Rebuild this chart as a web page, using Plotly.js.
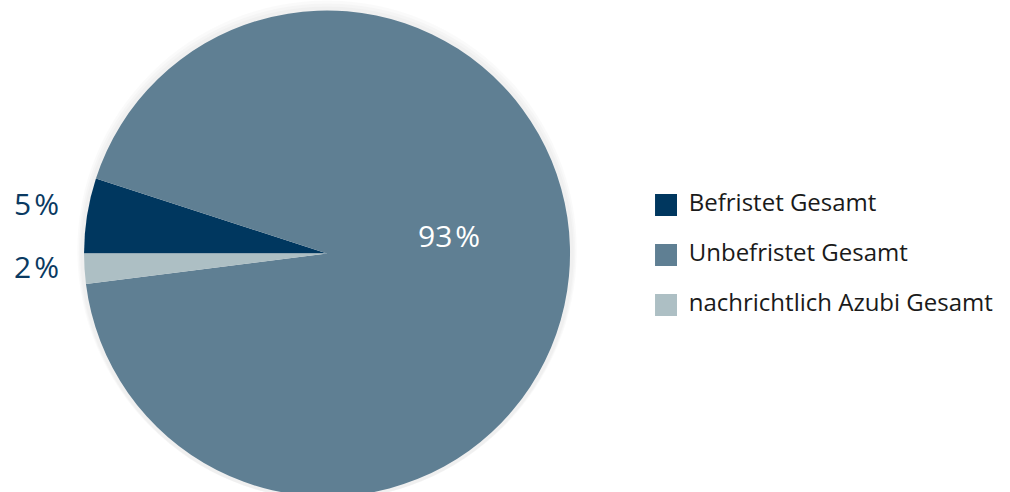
<!DOCTYPE html>
<html>
<head>
<meta charset="utf-8">
<script src="https://cdn.plot.ly/plotly-3.0.1.min.js"></script>
<style>
html,body{margin:0;padding:0;background:#fff;overflow:hidden;}
#chart{width:1010px;height:500px;}
</style>
</head>
<body>
<div id="chart"></div>
<script>
const categories = ["Befristet Gesamt", "Unbefristet Gesamt", "nachrichtlich Azubi Gesamt"];
const values = [5, 93, 2];
const colors = ["#00375f", "#5f7f93", "#adbfc4"];
const labelFont = "Open Sans, Lato, sans-serif";

const pieDomain = {x: [0.0832, 0.5644], y: [0.007, 0.979]};

// subtle drop shadow layers behind the pie
const shadowLayers = [10, 7, 4].map(function (pad) {
  const dx = pad / 1010, dy = pad / 500;
  return {
    type: "pie", values: [1], labels: ["shadow" + pad], showlegend: false,
    marker: {colors: ["rgba(0,0,0,0.018)"], line: {width: 0}},
    textinfo: "none", hoverinfo: "skip", sort: false,
    domain: {x: [pieDomain.x[0] - dx, pieDomain.x[1] + dx], y: [pieDomain.y[0] - dy, pieDomain.y[1] + dy]}
  };
});

const pie = {
  type: "pie",
  labels: categories,
  values: values,
  marker: {colors: colors, line: {width: 0}},
  sort: false,
  direction: "clockwise",
  rotation: -90,
  textinfo: "none",
  hoverinfo: "label+percent",
  showlegend: false,
  domain: pieDomain
};

const legendTrace = {
  type: "scatter",
  mode: "markers+text",
  x: categories.map(function () { return 0; }),
  y: categories,
  text: categories.map(function (c) { return "\u2009\u2009" + c; }),
  textposition: "middle right",
  textfont: {family: labelFont, size: 24, color: "#1a1a1a"},
  marker: {symbol: "square", size: 22, color: colors, line: {width: 0}},
  xaxis: "x2", yaxis: "y2",
  showlegend: false, hoverinfo: "skip", cliponaxis: false
};

function pct(v) { return v + "\u200a%"; }

const layout = {
  width: 1010, height: 500,
  margin: {l: 0, r: 0, t: 0, b: 0},
  paper_bgcolor: "#ffffff", plot_bgcolor: "rgba(0,0,0,0)",
  showlegend: false,
  xaxis2: {domain: [0.6, 1], range: [-1, 5.73], visible: false, fixedrange: true},
  yaxis2: {domain: [0.34, 0.64], type: "category", range: [2.5, -0.5], visible: false, fixedrange: true},
  annotations: [
    {text: pct(values[0]), xref: "paper", yref: "paper", x: 61 / 1010, y: 1 - 204 / 500,
     xanchor: "right", yanchor: "middle", showarrow: false,
     font: {family: labelFont, size: 30, color: "#0a3a62"}},
    {text: pct(values[2]), xref: "paper", yref: "paper", x: 61 / 1010, y: 1 - 266 / 500,
     xanchor: "right", yanchor: "middle", showarrow: false,
     font: {family: labelFont, size: 30, color: "#0a3a62"}},
    {text: pct(values[1]), xref: "paper", yref: "paper", x: 449 / 1010, y: 1 - 235 / 500,
     xanchor: "center", yanchor: "middle", showarrow: false,
     font: {family: labelFont, size: 30, color: "#ffffff"}}
  ]
};

Plotly.newPlot("chart", shadowLayers.concat([pie, legendTrace]), layout, {displayModeBar: false, staticPlot: true});
</script>
</body>
</html>
